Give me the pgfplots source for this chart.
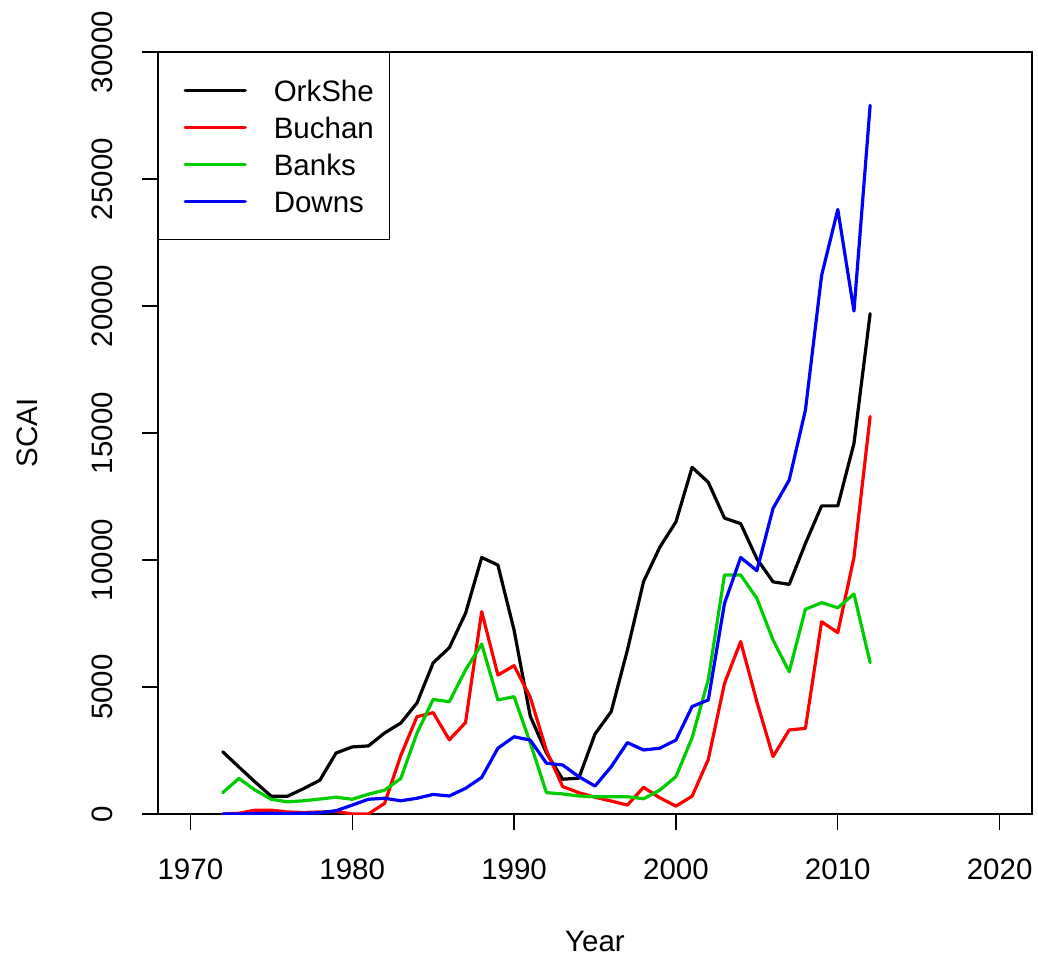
\documentclass[border=0pt]{standalone}
\usepackage{pgfplots}
\pgfplotsset{compat=1.18}
\usepackage{fontspec}
\setmainfont{Liberation Sans}
\definecolor{rgreen}{RGB}{0,205,0}
\definecolor{rred}{RGB}{255,0,0}
\definecolor{rblue}{RGB}{0,0,255}
\begin{document}
\fontsize{29.5bp}{35bp}\selectfont
\begin{tikzpicture}
\begin{axis}[name=ax, at={(0,0)}, anchor=south west,
  scale only axis, width=874bp, height=762bp,
  xmin=1968, xmax=2022, ymin=0, ymax=30000,
  xtick={1970,1980,...,2020}, ytick={0,5000,...,30000},
  scaled y ticks=false, scaled x ticks=false,
  /pgf/number format/.cd, 1000 sep={}, assume math mode=true, /pgfplots/.cd,
  tick pos=left, tick align=outside, major tick length=16bp,
  tick style={black, line width=1.2bp},
  axis line style={black, line width=1.2bp},
  xticklabel style={anchor=north, inner sep=0pt},
  yticklabel style={rotate=90, anchor=base, inner sep=0pt},
  xticklabel shift=29bp, yticklabel shift=30bp,
  xlabel={Year}, ylabel={SCAI},
  xlabel style={at={(axis description cs:0.5,-0.181)}, anchor=base, inner sep=0pt},
  ylabel style={at={(axis description cs:-0.1373,0.5)}, anchor=base, inner sep=0pt},
  legend style={at={(axis description cs:0,1)}, anchor=north west, draw=black, line width=1.2bp,
    inner xsep=16bp, inner ysep=27.5bp, row sep=16bp, column sep=0pt,
    nodes={inner sep=0pt, text height=21bp, text depth=0pt}},
  legend cell align=left,
  legend image code/.code={\path (0bp,0bp) (96bp,0bp); \draw[#1] (9bp,0bp) -- (69bp,0bp);},
  every axis plot/.append style={line width=3.2bp, line join=round, line cap=round},
]
\addplot[black] coordinates {
(1972,2450)(1973,1850)(1974,1260)(1975,700)(1976,700)(1977,1000)(1978,1330)(1979,2400)
(1980,2640)(1981,2680)(1982,3190)(1983,3580)(1984,4370)(1985,5950)(1986,6550)(1987,7900)
(1988,10100)(1989,9800)(1990,7240)(1991,3850)(1992,2400)(1993,1370)(1994,1410)(1995,3150)
(1996,4030)(1997,6450)(1998,9150)(1999,10500)(2000,11500)(2001,13650)(2002,13060)(2003,11650)
(2004,11430)(2005,10050)(2006,9140)(2007,9040)(2008,10650)(2009,12130)(2010,12130)(2011,14590)
(2012,19700)};
\addlegendentry{OrkShe}
\addplot[rred] coordinates {
(1972,0)(1973,30)(1974,150)(1975,150)(1976,80)(1977,60)(1978,80)(1979,100)
(1980,0)(1981,0)(1982,420)(1983,2300)(1984,3830)(1985,3990)(1986,2920)(1987,3600)
(1988,7970)(1989,5470)(1990,5840)(1991,4600)(1992,2500)(1993,1080)(1994,840)(1995,660)
(1996,510)(1997,350)(1998,1050)(1999,640)(2000,310)(2001,700)(2002,2150)(2003,5140)
(2004,6790)(2005,4420)(2006,2260)(2007,3310)(2008,3370)(2009,7570)(2010,7140)(2011,10100)
(2012,15650)};
\addlegendentry{Buchan}
\addplot[rgreen] coordinates {
(1972,840)(1973,1400)(1974,940)(1975,580)(1976,480)(1977,520)(1978,590)(1979,660)
(1980,580)(1981,780)(1982,940)(1983,1400)(1984,3180)(1985,4510)(1986,4420)(1987,5670)
(1988,6690)(1989,4490)(1990,4620)(1991,2800)(1992,840)(1993,790)(1994,710)(1995,680)
(1996,680)(1997,680)(1998,600)(1999,940)(2000,1470)(2001,3000)(2002,5300)(2003,9410)
(2004,9410)(2005,8490)(2006,6850)(2007,5600)(2008,8060)(2009,8320)(2010,8120)(2011,8660)
(2012,5960)};
\addlegendentry{Banks}
\addplot[rblue] coordinates {
(1972,0)(1973,0)(1974,20)(1975,30)(1976,20)(1977,30)(1978,50)(1979,130)
(1980,350)(1981,580)(1982,620)(1983,520)(1984,620)(1985,770)(1986,710)(1987,1010)
(1988,1440)(1989,2590)(1990,3040)(1991,2910)(1992,2000)(1993,1930)(1994,1470)(1995,1100)
(1996,1860)(1997,2810)(1998,2520)(1999,2590)(2000,2910)(2001,4230)(2002,4490)(2003,8290)
(2004,10100)(2005,9580)(2006,12030)(2007,13150)(2008,15900)(2009,21200)(2010,23800)(2011,19800)
(2012,27900)};
\addlegendentry{Downs}
\end{axis}
\path ([xshift=-158bp,yshift=-145bp]ax.south west) rectangle ([xshift=6bp,yshift=52bp]ax.north east);
\end{tikzpicture}
\end{document}
